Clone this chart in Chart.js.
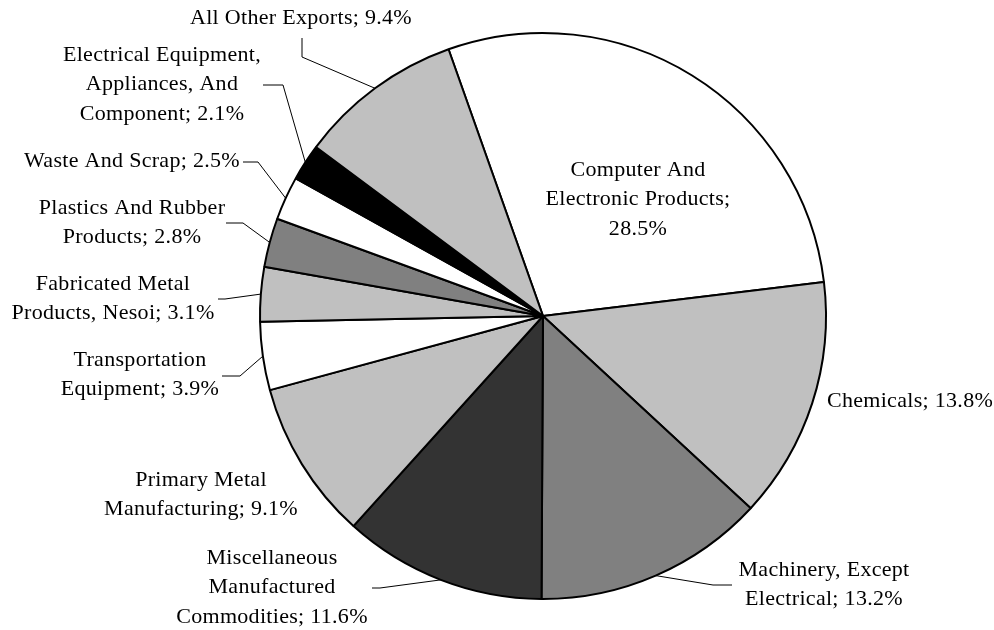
<!DOCTYPE html>
<html>
<head>
<meta charset="utf-8">
<script src="https://cdn.jsdelivr.net/npm/chart.js@4"></script>
<style>
  html, body { margin: 0; padding: 0; background: #fff; }
  #wrap { width: 994px; height: 630px; }
</style>
</head>
<body>
<div id="wrap"><canvas id="pieChart"></canvas></div>
<script>
// export shares, clockwise from the All Other / Computer boundary
const CATEGORIES = [
    ['Computer And', 'Electronic Products;'],
    ['Chemicals;'],
    ['Machinery, Except', 'Electrical;'],
    ['Miscellaneous', 'Manufactured', 'Commodities;'],
    ['Primary Metal', 'Manufacturing;'],
    ['Transportation', 'Equipment;'],
    ['Fabricated Metal', 'Products, Nesoi;'],
    ['Plastics And Rubber', 'Products;'],
    ['Waste And Scrap;'],
    ['Electrical Equipment,', 'Appliances, And', 'Component;'],
    ['All Other Exports;']
];
const SHARES = [28.5, 13.8, 13.2, 11.6, 9.1, 3.9, 3.1, 2.8, 2.5, 2.1, 9.4];
const FILLS = ['#ffffff', '#c0c0c0', '#808080', '#333333', '#c0c0c0', '#ffffff',
               '#c0c0c0', '#808080', '#ffffff', '#000000', '#c0c0c0'];

// label placement: centre x, first line y, percent on own line?, leader anchor + elbow
const LABEL_POS = [
    {x: 638, y: 170, ownLine: true},
    {x: 910, y: 401},
    {x: 824, y: 570, lead: [[732, 585], [713, 585]]},
    {x: 272, y: 558, lead: [[372, 588], [380, 588]]},
    {x: 201, y: 480},
    {x: 140, y: 360, lead: [[222, 376], [240, 376]]},
    {x: 113, y: 284, lead: [[218, 299], [225, 299]]},
    {x: 132, y: 208, lead: [[226, 223], [243, 223]]},
    {x: 132, y: 161, lead: [[243, 162], [258, 162]]},
    {x: 162, y: 55, lead: [[263, 85], [283, 85]]},
    {x: 301, y: 18, lead: [[302, 38], [302, 57]]}
];

const labelPlugin = {
    id: 'pieLabels',
    afterDraw(chart) {
        const ctx = chart.ctx;
        const arcs = chart.getDatasetMeta(0).data;
        ctx.save();
        ctx.font = '22px "Liberation Serif", "Times New Roman", serif';
        ctx.letterSpacing = '0.3px';
        ctx.fillStyle = '#000';
        ctx.textAlign = 'center';
        ctx.textBaseline = 'middle';
        ctx.strokeStyle = '#000';
        ctx.lineWidth = 1;
        arcs.forEach((arc, i) => {
            const pos = LABEL_POS[i];
            const pct = SHARES[i].toFixed(1) + '%';
            let lines = CATEGORIES[i].slice();
            if (pos.ownLine) {
                lines.push(pct);
            } else {
                lines[lines.length - 1] += ' ' + pct;
            }
            lines.forEach((t, k) => ctx.fillText(t, pos.x, pos.y + k * 29.5));

            if (pos.lead) {
                const p = arc.getProps(['x', 'y', 'startAngle', 'endAngle', 'outerRadius'], true);
                const mid = (p.startAngle + p.endAngle) / 2;
                const ex = p.x + p.outerRadius * Math.cos(mid);
                const ey = p.y + p.outerRadius * Math.sin(mid);
                ctx.beginPath();
                ctx.moveTo(pos.lead[0][0], pos.lead[0][1]);
                ctx.lineTo(pos.lead[1][0], pos.lead[1][1]);
                ctx.lineTo(ex, ey);
                ctx.stroke();
            }
        });
        ctx.restore();
    }
};

const ctx = document.getElementById('pieChart');

new Chart(ctx, {
    type: 'pie',
    data: {
        labels: CATEGORIES.map(c => c.join(' ')),
        datasets: [{
            data: SHARES,
            backgroundColor: FILLS,
            borderColor: '#000',
            borderWidth: 2
        }]
    },
    options: {
        responsive: true,
        maintainAspectRatio: false,
        animation: false,
        rotation: -19.5,
        layout: {
            padding: {left: 259, right: 167, top: 32, bottom: 30}
        },
        plugins: {
            legend: {display: false},
            tooltip: {enabled: false}
        }
    },
    plugins: [labelPlugin]
});
</script>
</body>
</html>
